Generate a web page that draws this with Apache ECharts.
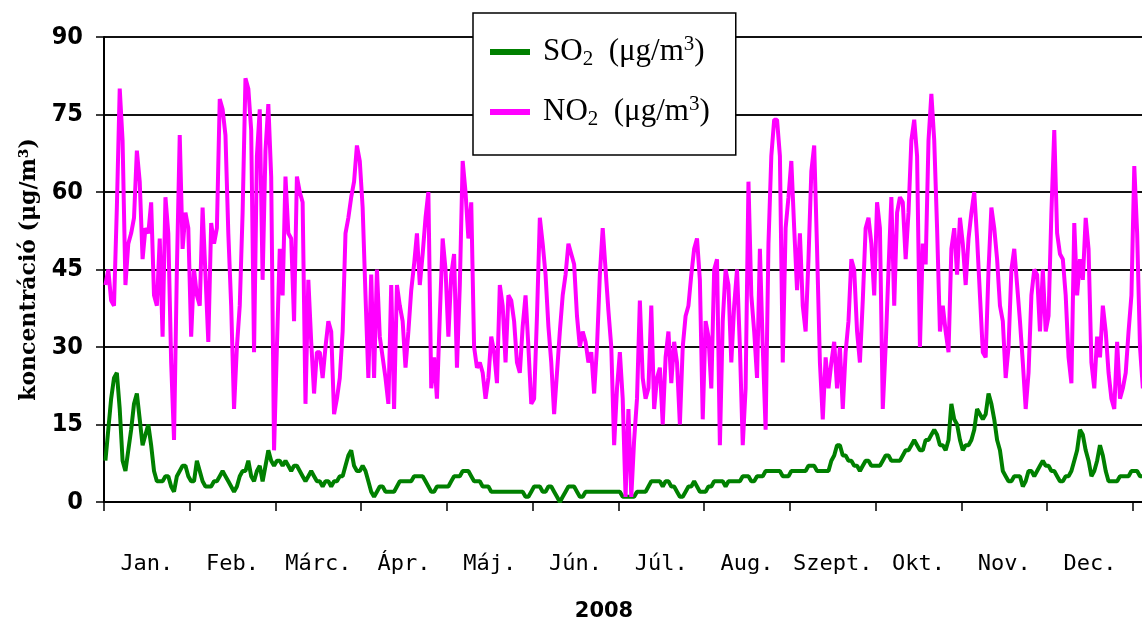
<!DOCTYPE html>
<html><head><meta charset="utf-8">
<script src="https://cdn.jsdelivr.net/npm/echarts@6/dist/echarts.min.js"></script>
<style>html,body{margin:0;padding:0;background:#fff}#c{width:1142px;height:622px}</style>
</head><body><div id="c"></div>
<script>
const months = ['Jan.','Feb.','Márc.','Ápr.','Máj.','Jún.','Júl.','Aug.','Szept.','Okt.','Nov.','Dec.'];
const yearLabel = '2008';
const seriesNames = ['SO2', 'NO2'];

const so2 = [
8,14,20,24,25,18,8,6,10,14, 19,21,16,11,13,15,11,6,4,4,
4,5,5,3,2,5,6,7,7,5, 4,4,8,6,4,3,3,3,4,4,
5,6,5,4,3,2,3,5,6,6, 8,5,4,6,7,4,7,10,8,7,
8,8,7,8,7,6,7,7,6,5, 4,5,6,5,4,4,3,4,4,3,
4,4,5,5,7,9,10,7,6,6, 7,6,4,2,1,2,3,3,2,2,
2,2,3,4,4,4,4,4,5,5, 5,5,4,3,2,2,3,3,3,3,
3,4,5,5,5,6,6,6,5,4, 4,4,3,3,3,2,2,2,2,2,
2,2,2,2,2,2,2,1,1,2, 3,3,3,2,2,3,3,2,1,0,
1,2,3,3,3,2,1,1,2,2, 2,2,2,2,2,2,2,2,2,2,
2,1,1,1,1,1,2,2,2,2, 3,4,4,4,4,3,4,4,3,3,
2,1,1,2,3,3,4,3,2,2, 2,3,3,4,4,4,4,3,4,4,
4,4,4,5,5,5,4,4,5,5, 5,6,6,6,6,6,6,5,5,5,
6,6,6,6,6,6,7,7,7,6, 6,6,6,6,8,9,11,11,9,9,
8,8,7,7,6,7,8,8,7,7, 7,7,8,9,9,8,8,8,8,9,
10,10,11,12,11,10,10,12,12,13, 14,13,11,11,10,12,19,16,15,12,
10,11,11,12,14,18,17,16,17,21, 19,16,12,10,6,5,4,4,5,5,
5,3,4,6,6,5,6,7,8,7, 7,6,6,5,4,4,5,5,6,8,
10,14,13,10,8,5,6,8,11,9, 6,4,4,4,4,5,5,5,5,6,
6,6,5,5,5,5
];

const no2 = [
42,45,39,38,57,80,70,42,50,52, 55,68,62,47,53,52,58,40,38,51,
32,59,52,27,12,45,71,49,56,53, 32,45,40,38,57,44,31,54,50,53,
78,76,71,52,38,18,30,38,56,82, 80,72,29,67,76,43,68,77,63,10,
30,49,40,63,52,51,35,63,60,58, 19,43,31,21,29,29,24,30,35,33,
17,20,24,33,52,55,59,62,69,66, 57,40,24,44,24,45,32,28,24,19,
42,18,42,38,35,26,33,41,46,52, 42,48,55,60,22,28,20,36,51,45,
32,44,48,26,42,66,60,51,58,30, 26,27,25,20,24,32,29,23,42,38,
27,40,39,35,27,25,34,40,30,19, 20,36,55,50,44,34,27,17,25,33,
40,44,50,48,46,36,30,33,31,27, 29,21,30,44,53,45,37,30,11,22,
29,20,1,18,1,12,20,39,24,20, 22,38,18,24,26,15,28,33,23,31,
27,15,30,36,38,44,49,51,43,16, 35,32,22,45,47,11,35,45,42,27,
38,45,30,11,22,62,40,33,24,49, 30,14,50,67,74,74,67,27,53,59,
66,53,41,52,38,33,47,64,69,49, 27,16,28,22,27,31,22,30,18,29,
35,47,45,33,27,39,53,55,50,40, 58,53,18,30,45,59,38,56,59,58,
47,56,70,74,67,30,50,46,70,79, 70,53,33,38,33,29,49,53,44,55,
50,42,51,56,60,51,40,29,28,45, 57,53,47,38,35,24,30,45,49,42,
35,27,18,25,40,45,44,33,45,33, 36,56,72,52,48,47,40,28,23,54,
40,47,43,55,49,27,22,32,28,38, 33,25,20,18,31,20,22,25,33,40,
65,52,30,22,28,30
];

const toPoints = arr => arr.map((v, i) => [i + 0.5, v]);
const dayCount = so2.length;

const chart = echarts.init(document.getElementById('c'), null, {renderer: 'canvas'});
const sub = {fontFamily: 'Liberation Serif', fontSize: 21, color: '#000', padding: [15, 0, 0, 0], verticalAlign: 'middle'};
const sup = {fontFamily: 'Liberation Serif', fontSize: 21, color: '#000', padding: [0, 0, 15, 0], verticalAlign: 'middle'};
chart.setOption({
  animation: false,
  backgroundColor: '#fff',
  grid: {left: 104, top: 37, right: -8, bottom: 120, containLabel: false, outerBoundsMode: 'none'},
  legend: {
    orient: 'vertical',
    left: 473, top: 13,
    padding: [21, 26, 25, 17],
    itemGap: 24,
    itemWidth: 40, itemHeight: 6,
    icon: 'rect',
    backgroundColor: '#fff',
    borderColor: '#000', borderWidth: 1.5,
    data: seriesNames,
    formatter: n => `{g|}{a|${n.slice(0, 2)}}{b|2}{a|  (μg/m}{c|3}{a|)}`,
    textStyle: {
      rich: {
        g: {width: 8},
        a: {fontFamily: 'Liberation Serif', fontSize: 31, color: '#000', verticalAlign: 'middle'},
        b: sub, c: sup
      }
    }
  },
  xAxis: [
    {
      type: 'value', min: 0, max: dayCount, interval: 30, position: 'bottom',
      axisLine: {show: true, lineStyle: {color: '#000', width: 2}},
      axisTick: {show: true, length: 9, lineStyle: {color: '#000', width: 1.5}},
      axisLabel: {show: false},
      splitLine: {show: false},
      name: yearLabel, nameLocation: 'middle', nameGap: 99,
      nameTextStyle: {fontFamily: 'DejaVu Sans', fontWeight: 'bold', fontSize: 21, color: '#000', padding: [0, 46, 0, 0]}
    },
    {
      type: 'value', min: 0, max: dayCount, interval: 15, position: 'bottom',
      axisLine: {show: false}, axisTick: {show: false}, splitLine: {show: false},
      axisLabel: {
        margin: 51, fontFamily: 'DejaVu Sans Mono', fontSize: 22, color: '#000',
        showMinLabel: true, showMaxLabel: true,
        formatter: v => (v % 30 === 15 ? months[(v - 15) / 30] : '')
      }
    }
  ],
  yAxis: {
    type: 'value', min: 0, max: 90, interval: 15,
    axisLine: {show: true, lineStyle: {color: '#000', width: 2}},
    axisTick: {show: true, length: 8, lineStyle: {color: '#000', width: 1.5}},
    splitLine: {show: true, lineStyle: {color: '#111', width: 2}},
    axisLabel: {margin: 21, fontFamily: "'Liberation Sans Narrow', 'DejaVu Sans Condensed', 'Liberation Sans', sans-serif", fontWeight: 'bold', fontSize: 25, color: '#000'},
    name: 'koncentráció (μg/m³)', nameLocation: 'middle', nameGap: 64, nameRotate: 90,
    nameTextStyle: {fontFamily: 'DejaVu Serif', fontWeight: 'bold', fontSize: 22, color: '#000'}
  },
  series: [
    {name: seriesNames[0], type: 'line', xAxisIndex: 0, data: toPoints(so2), symbol: 'none', showSymbol: false,
     lineStyle: {color: '#008000', width: 4}, itemStyle: {color: '#008000'}},
    {name: seriesNames[1], type: 'line', xAxisIndex: 0, data: toPoints(no2), symbol: 'none', showSymbol: false,
     lineStyle: {color: '#ff00ff', width: 4}, itemStyle: {color: '#ff00ff'}}
  ]
});
</script></body></html>
